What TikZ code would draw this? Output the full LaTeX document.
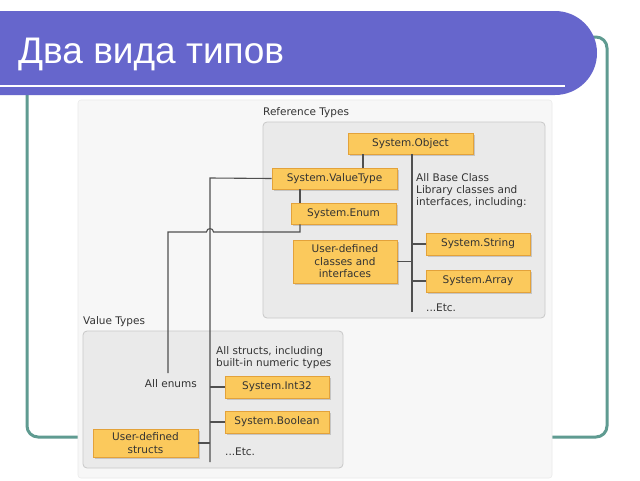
\documentclass[tikz,border=0pt]{standalone}
\usepackage{fontspec}
\newfontfamily\titlefont{Liberation Sans}
\newfontfamily\diagfont{DejaVu Sans}
\usetikzlibrary{shadows}
\definecolor{titlebg}{HTML}{6666CC}
\definecolor{framec}{HTML}{5F9B91}
\definecolor{panelc}{HTML}{F7F7F7}
\definecolor{groupfill}{HTML}{EAEAEA}
\definecolor{groupline}{HTML}{C8C8C8}
\definecolor{boxfill}{HTML}{FBC95C}
\definecolor{boxline}{HTML}{E3A23A}
\definecolor{linec}{HTML}{505050}
\definecolor{txt}{HTML}{333333}
\tikzset{
  tbox/.style={draw=boxline, fill=boxfill, line width=0.8pt, inner sep=0pt, align=center,
    font=\diagfont\fontsize{10.5}{12.5}\selectfont, text=txt,
    drop shadow={shadow xshift=1.5pt, shadow yshift=-1.5pt, opacity=0.35}},
  grp/.style={draw=groupline, fill=groupfill, line width=0.8pt, rounded corners=4pt},
  lbl/.style={inner sep=0pt, font=\diagfont\fontsize{10.5}{12}\selectfont, text=txt, align=left},
  conn/.style={draw=linec, line width=1.1pt}
}
\begin{document}
\begin{tikzpicture}[x=1pt,y=-1pt]
\useasboundingbox (0,0) rectangle (640,480);
\clip (0,0) rectangle (640,480);
\fill[white] (0,0) rectangle (640,480);
% frame
\draw[framec, line width=3pt, rounded corners=11pt] (27,37) rectangle (607,437);
% title bar
\fill[titlebg, rounded corners=42pt] (-60,11) rectangle (597,95);
\draw[white, line width=2.5pt] (0,86) -- (565,86);
\node[anchor=base west, inner sep=0pt, text=white, font=\titlefont\fontsize{37}{40}\selectfont] (title) at (18,63) {Два вида типов};
% diagram panel
\draw[fill=panelc, draw=black!8, line width=0.6pt, rounded corners=3pt] (78,100) rectangle (552,478);
% groups
\draw[grp] (263,122) rectangle (545,318);
\draw[grp] (83,331) rectangle (343,468);
\node[lbl, anchor=west] (reflbl) at (263,113) {Reference Types};
\node[lbl, anchor=west] (vallbl) at (83,322) {Value Types};
% boxes
\node[tbox, minimum width=125pt, minimum height=21pt] (obj) at (410.5,143.5) {System.Object};
\node[tbox, minimum width=125pt, minimum height=21pt] (vt) at (334.5,178.5) {System.ValueType};
\node[tbox, minimum width=105pt, minimum height=21pt] (en) at (343.5,213.5) {System.Enum};
\node[tbox, minimum width=104pt, minimum height=43pt] (udc) at (345,261.5) {User-defined\\classes and\\interfaces};
\node[tbox, minimum width=104pt, minimum height=22pt] (str) at (478,244) {System.String};
\node[tbox, minimum width=104pt, minimum height=22pt] (arr) at (478,281) {System.Array};
\node[tbox, minimum width=104pt, minimum height=22pt] (i32) at (277,387) {System.Int32};
\node[tbox, minimum width=104pt, minimum height=22pt] (bool) at (277,422) {System.Boolean};
\node[tbox, minimum width=105pt, minimum height=28pt] (uds) at (145.5,443) {User-defined\\structs};
% texts
\node[lbl, anchor=north west] (bcl) at (416,173) {All Base Class\\Library classes and\\interfaces, including:};
\node[lbl, anchor=west] (etc1) at (426,308) {...Etc.};
\node[lbl, anchor=north west] (allstr) at (216,346) {All structs, including\\built-in numeric types};
\node[lbl, anchor=east] (allen) at (197,384) {All enums};
\node[lbl, anchor=west] (etc2) at (225,452) {...Etc.};
% coordinates
\coordinate (vtx) at (363,0);
\coordinate (spx) at (412,0);
\coordinate (spend) at (412,312);
\coordinate (ex) at (300,0);
\coordinate (ebend) at (300,232);
\coordinate (ecorner) at (168,232);
\coordinate (eend) at (168,373);
\coordinate (vcorner) at (210,178);
\coordinate (vend) at (210,462);
% connectors
\draw[conn] (obj.south -| vtx) -- (vt.north -| vtx);
\draw[conn] (obj.south -| spx) -- (spend);
\draw[conn] (str.west) -- (str.west -| spx);
\draw[conn] (arr.west) -- (arr.west -| spx);
\draw[conn] (udc.east) -- (udc.east -| spx);
\draw[conn] (vt.south -| ex) -- (en.north -| ex);
\draw[conn] (vt.west) -- (vcorner) -- (vend);
\draw[conn] (i32.west) -- (i32.west -| vend);
\draw[conn] (bool.west) -- (bool.west -| vend);
\draw[conn] (uds.east) -- (uds.east -| vend);
\draw[conn] (en.south -| ex) -- (ebend) -- (213.5,232) .. controls (213.5,227.5) and (206.5,227.5) .. (206.5,232) -- (ecorner) -- (eend);
\end{tikzpicture}
\end{document}
